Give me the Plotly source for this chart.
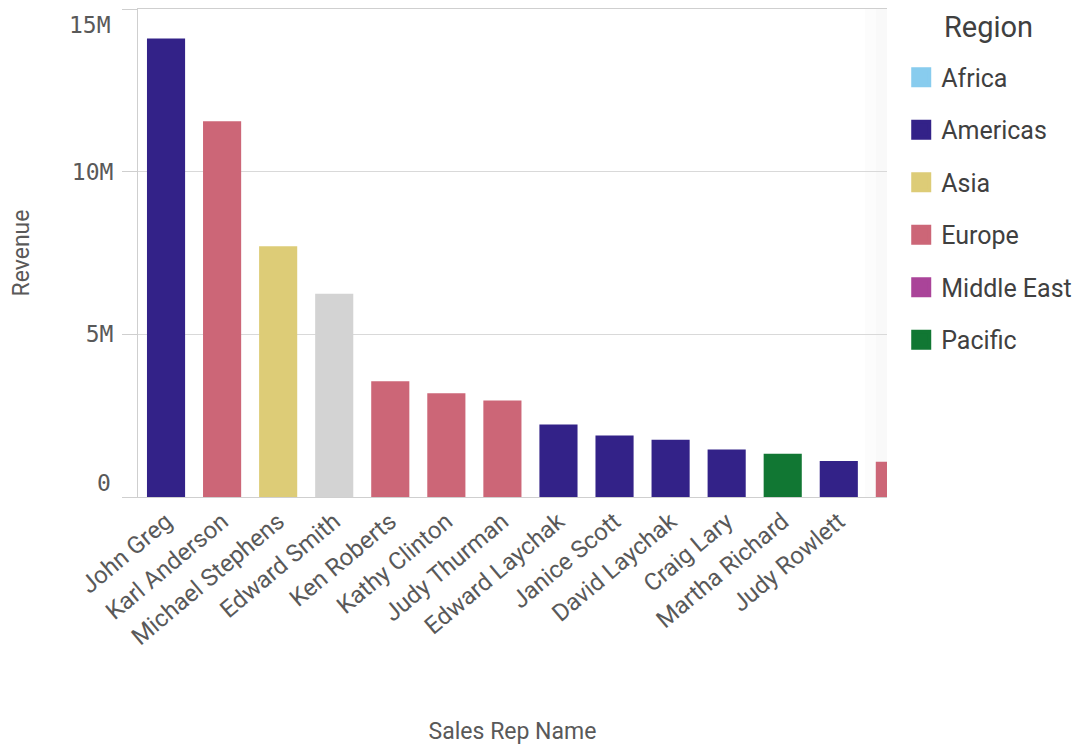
import plotly.graph_objects as go

names = ["John Greg", "Karl Anderson", "Michael Stephens", "Edward Smith", "Ken Roberts",
         "Kathy Clinton", "Judy Thurman", "Edward Laychak", "Janice Scott", "David Laychak",
         "Craig Lary", "Martha Richard", "Judy Rowlett", "Lisa Smith"]
revenue = [14.09e6, 11.55e6, 7.71e6, 6.25e6, 3.56e6, 3.19e6, 2.97e6, 2.23e6, 1.89e6, 1.76e6,
           1.46e6, 1.33e6, 1.11e6, 1.08e6]
regions = ["Americas", "Europe", "Asia", "-", "Europe", "Europe", "Europe", "Americas",
           "Americas", "Americas", "Americas", "Pacific", "Americas", "Europe"]

legend_regions = ["Africa", "Americas", "Asia", "Europe", "Middle East", "Pacific"]
region_colors = {"Africa": "#88CCEE", "Americas": "#332288", "Asia": "#DDCC77",
                 "Europe": "#CC6677", "Middle East": "#AA4499", "Pacific": "#117733",
                 "-": "#D3D3D3"}

y_ticks = [0, 5e6, 10e6, 15e6]
y_ticktext = ["", "5M", "10M", ""]
edge_labels = [(15e6, "15M", -16), (0, "0", 14)]

fig = go.Figure()

for reg in ["Americas", "Europe", "Asia", "-", "Pacific"]:
    xs = [n for n, r in zip(names, regions) if r == reg]
    ys = [v for v, r in zip(revenue, regions) if r == reg]
    fig.add_trace(go.Bar(x=xs, y=ys, name=reg, marker_color=region_colors[reg],
                         marker_line_width=0, width=0.68, showlegend=False))

for i, reg in enumerate(legend_regions):
    fig.add_trace(go.Scatter(x=[None], y=[None], mode="markers", name=reg,
                             legendgroup=f"g{i}",
                             marker=dict(symbol="square", size=16, color=region_colors[reg],
                                         line=dict(width=4, color=region_colors[reg]))))

for yv, txt, shift in edge_labels:
    fig.add_annotation(x=0, xref="paper", y=yv, yref="y", text=txt, showarrow=False,
                       xanchor="right", yanchor="middle", xshift=-25, yshift=shift,
                       font=dict(family="DejaVu Sans Mono", size=23, color="#595959"))

fig.add_annotation(x=1.135, xref="paper", y=1.0, yref="paper", yanchor="middle",
                   xanchor="center", yshift=-18, text="Region", showarrow=False,
                   font=dict(size=29, color="#404040"))

# faint scroll fade on the right edge of the plot area
for x0 in (0.9706, 0.9853):
    fig.add_shape(type="rect", xref="paper", yref="paper", x0=x0, x1=1.0, y0=0, y1=1,
                  fillcolor="rgba(0,0,0,0.012)", line_width=0, layer="below")

fig.update_layout(
    width=1076, height=737,
    barmode="overlay",
    plot_bgcolor="white", paper_bgcolor="white",
    margin=dict(l=130, r=197, t=1, b=248),
    font=dict(family="Roboto", color="#595959"),
    legend=dict(font=dict(size=25, color="#404040"),
                traceorder="grouped", tracegroupgap=17,
                x=1.019, xanchor="left", y=0.907, yanchor="top",
                itemsizing="trace"),
    xaxis=dict(categoryorder="array", categoryarray=names, range=[-0.5, 12.86],
               tickangle=-40, tickfont=dict(size=24, color="#595959"),
               showline=True, linecolor="#cfcfcf", linewidth=1, mirror=True,
               title=dict(text="Sales Rep Name", font=dict(size=23, color="#595959"),
                          standoff=76),
               showgrid=False, ticks="", automargin=False),
    yaxis=dict(range=[0, 15e6], tickvals=y_ticks, ticktext=y_ticktext,
               tickfont=dict(family="DejaVu Sans Mono", size=23, color="#595959"),
               showgrid=True, gridcolor="#d9d9d9", gridwidth=1,
               showline=True, linecolor="#cfcfcf", linewidth=1,
               ticks="outside", ticklen=15, tickcolor="#cfcfcf",
               ticklabelstandoff=4,
               zeroline=False, automargin=False,
               title=dict(text="Revenue", font=dict(size=23, color="#595959"), standoff=38)),
)

fig.write_html("out.html")
